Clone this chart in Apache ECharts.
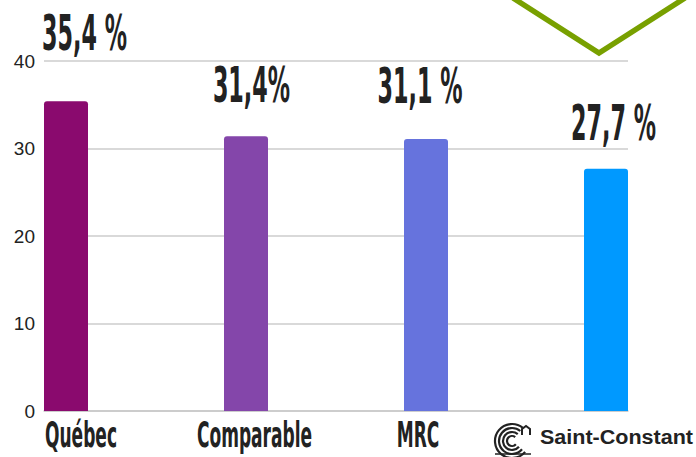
<!DOCTYPE html>
<html>
<head>
<meta charset="utf-8">
<script src="https://cdn.jsdelivr.net/npm/echarts@6/dist/echarts.min.js"></script>
<style>
html,body{margin:0;padding:0;background:#fff;}
#chart{width:696px;height:457px;}
</style>
</head>
<body>
<div id="chart"></div>
<script>
// ---- data ----
const categories = ['Québec', 'Comparable', 'MRC', 'Saint-Constant'];
const values = [35.4, 31.4, 31.1, 27.7];
const valueLabels = ['35,4 %', '31,4%', '31,1 %', '27,7 %'];
const yTicks = [0, 10, 20, 30, 40];

// ---- styles ----
const barColors = ['#8A0A6E', '#8446AA', '#6673DD', '#0099FF'];
const valueLabelShift = [[18.5, -69], [5.5, -52], [-6, -54], [7.5, -46]];
const catLabelShift = [15, 8.5, -8];
const VALUE_FONT = 'bold 50px "Liberation Sans Narrow", "DejaVu Sans Condensed", "Liberation Sans", sans-serif';
const CAT_FONT = 'bold 30px "Liberation Sans Narrow", "DejaVu Sans Condensed", "Liberation Sans", sans-serif';
const SC_FONT = 'bold 21px "Liberation Sans", Arial, sans-serif';

function measure(font, text) {
  const c = document.createElement('canvas').getContext('2d');
  c.font = font;
  return c.measureText(text).width;
}
const valueScale = 85 / measure(VALUE_FONT, '35,4 %');
const catScale = 72 / measure(CAT_FONT, 'Québec');
const scScale = 153 / measure(SC_FONT, 'Saint-Constant');

const chart = echarts.init(document.getElementById('chart'), null, {renderer: 'svg'});
const pad = 22 / 180;
chart.setOption({
  animation: false,
  backgroundColor: '#fff',
  grid: {left: 44, right: 68, top: 61, bottom: 46, containLabel: false},
  xAxis: {
    type: 'value', min: -pad, max: categories.length - 1 + pad,
    axisLabel: {show: false}, axisTick: {show: false}, splitLine: {show: false},
    axisLine: {show: true, onZero: false, lineStyle: {color: '#c8c8c8', width: 1.5}}
  },
  yAxis: {
    type: 'value', min: yTicks[0], max: yTicks[yTicks.length - 1], interval: 10,
    axisLine: {show: false}, axisTick: {show: false},
    axisLabel: {color: '#222', fontSize: 19, fontFamily: '"Liberation Sans", Arial, sans-serif', margin: 9},
    splitLine: {lineStyle: {color: '#cccccc', width: 1.5}}
  },
  series: [{
    type: 'bar', barWidth: 44,
    data: values.map((v, i) => ({value: [i, v], itemStyle: {color: barColors[i], borderRadius: [3, 3, 0, 0]}}))
  }]
});

const g = [];
// decorative green chevron
g.push({type: 'polyline', silent: true, shape: {points: [[513, -2], [599, 53], [685, -2]]},
  style: {stroke: '#78A000', lineWidth: 5.5, fill: null}});

const base = chart.convertToPixel({gridIndex: 0}, [0, 0])[1];
values.forEach((v, i) => {
  const p = chart.convertToPixel({gridIndex: 0}, [i, v]);
  g.push({type: 'text', x: p[0] + valueLabelShift[i][0], y: p[1] + valueLabelShift[i][1], scaleX: valueScale,
    style: {text: valueLabels[i], font: VALUE_FONT, lineHeight: 40, fill: '#222', align: 'center', verticalAlign: 'middle'}});
  if (i < 3) {
    g.push({type: 'text', x: p[0] + catLabelShift[i], y: base + 24.5, scaleX: catScale, scaleY: 1.18,
      style: {text: categories[i], font: CAT_FONT, lineHeight: 26, fill: '#222', align: 'center', verticalAlign: 'middle'}});
  } else {
    // Saint-Constant logo + name
    const lx = p[0] - 94, ly = base + 30;
    const arcs = [];
    [17, 13, 9, 5].forEach(r => {
      arcs.push({type: 'arc', shape: {cx: lx, cy: ly, r: r, startAngle: Math.PI * 0.22, endAngle: Math.PI * 1.72, clockwise: true},
        style: {stroke: '#222', lineWidth: 2.2, fill: null}});
    });
    arcs.push({type: 'polyline', shape: {points: [[lx + 10, ly - 6], [lx + 10, ly - 12], [lx + 14, ly - 15], [lx + 18, ly - 12], [lx + 18, ly - 6]]},
      style: {stroke: '#222', lineWidth: 2, fill: null}});
    arcs.push({type: 'line', shape: {x1: lx - 17, y1: ly + 13, x2: lx + 19, y2: ly + 13}, style: {stroke: '#222', lineWidth: 1.5}});
    g.push({type: 'group', children: arcs});
    g.push({type: 'text', x: p[0] - 66, y: base + 26, scaleX: scScale,
      style: {text: categories[i], font: SC_FONT, lineHeight: 22, fill: '#222', align: 'left', verticalAlign: 'middle'}});
  }
});
chart.setOption({graphic: g});
</script>
</body>
</html>
